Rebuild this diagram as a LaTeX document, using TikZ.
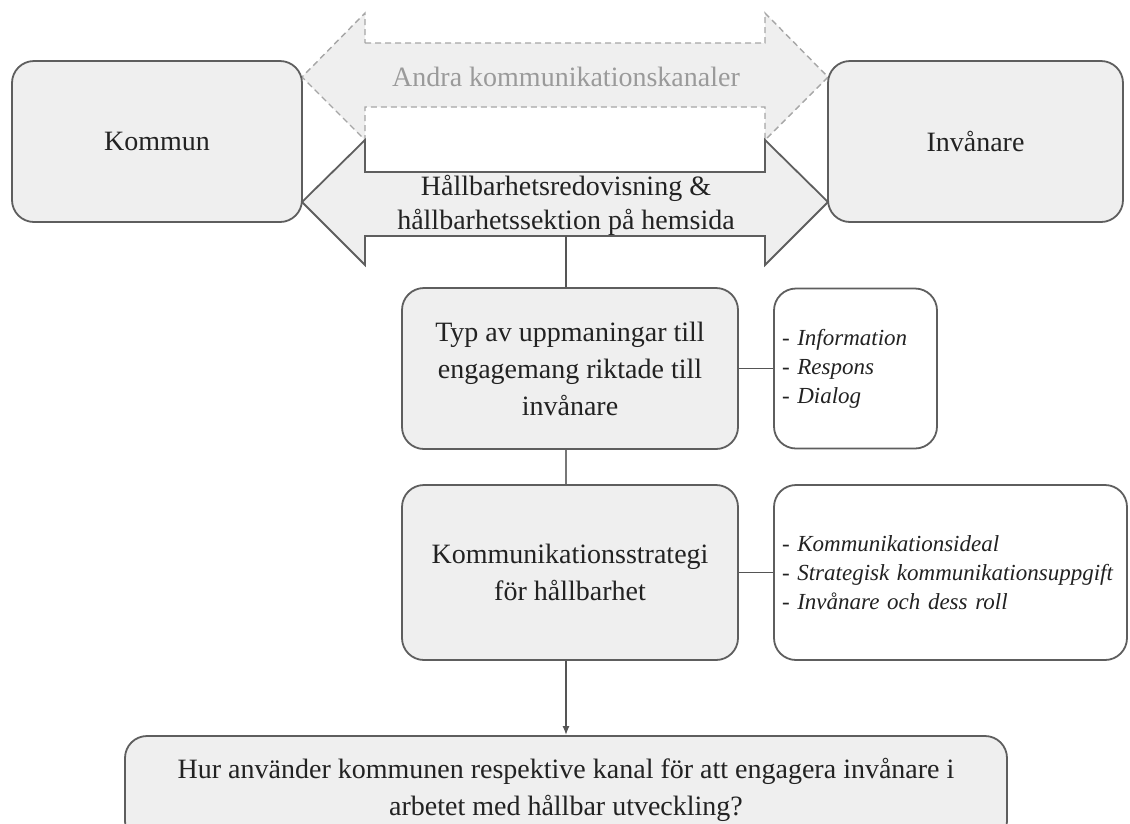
\documentclass[tikz,border=0pt]{standalone}
\usepackage{fontspec}
\setmainfont{Liberation Serif}
\usetikzlibrary{arrows.meta}
\definecolor{boxfill}{HTML}{EFEFEF}
\definecolor{boxline}{HTML}{5E5E5E}
\definecolor{dashline}{HTML}{A6A6A6}
\definecolor{graytext}{HTML}{9A9A9A}
\definecolor{textcol}{HTML}{222222}
\definecolor{conn}{HTML}{555555}
\begin{document}
\begin{tikzpicture}[x=1pt,y=-1pt,
  mainbox/.style={draw=boxline, fill=boxfill, line width=1.8pt, rounded corners=22pt,
    text=textcol, font=\fontsize{28}{37}\selectfont, align=center, inner sep=0pt},
  listbox/.style={draw=boxline, fill=white, line width=1.8pt, rounded corners=22pt,
    text=textcol, font=\fontsize{23}{29}\selectfont\itshape, align=left,
    inner xsep=8pt, inner ysep=0pt},
  dasharrow/.style={draw=dashline, fill=boxfill, line width=1.4pt, dash pattern=on 6pt off 4pt},
  solidarrow/.style={draw=boxline, fill=boxfill, line width=1.8pt},
  link/.style={draw=conn, line width=1.6pt},
  arrowlabel/.style={font=\fontsize{28}{34}\selectfont, align=center, inner sep=0pt}]
\useasboundingbox (0,0) rectangle (1130,823);

% channel arrows
\draw[dasharrow] (365,43) -- (765,43) -- (765,13) -- (828,77) -- (765,140) -- (765,107)
  -- (365,107) -- (365,140) -- (302,77) -- (365,13) -- cycle;
\draw[solidarrow] (365,172) -- (765,172) -- (765,140) -- (828,202) -- (765,265) -- (765,236)
  -- (365,236) -- (365,265) -- (302,202) -- (365,140) -- cycle;
\node[arrowlabel, text=graytext] (andra) at (566,77) {Andra kommunikationskanaler};
\node[arrowlabel, text=textcol] (hallb) at (566,205) {Hållbarhetsredovisning \&\\hållbarhetssektion på hemsida};
\coordinate (sb) at (566,236);

% actor boxes
\node[mainbox, minimum width=290pt, minimum height=161pt] (kommun) at (157,141.5) {Kommun};
\node[mainbox, minimum width=295pt, minimum height=161pt] (invanare) at (975.5,141.5) {Invånare};

% middle boxes
\node[mainbox, minimum width=336pt, minimum height=161pt] (typ) at (570,368.5)
  {Typ av uppmaningar till\\engagemang riktade till\\invånare};
\node[listbox, text width=147pt, minimum height=160pt] (info) at (855.5,368.5)
  {- Information\\- Respons\\- Dialog};
\node[mainbox, minimum width=336pt, minimum height=175pt] (strat) at (570,572.5)
  {Kommunikationsstrategi\\för hållbarhet};
\node[listbox, text width=337pt, minimum height=175pt] (ideal) at (950.5,572.5)
  {- Kommunikationsideal\\- Strategisk kommunikationsuppgift\\- Invånare och dess roll};
\node[mainbox, minimum width=882pt, minimum height=107pt] (hur) at (566,789.5)
  {Hur använder kommunen respektive kanal för att engagera invånare i\\arbetet med hållbar utveckling?};

% connectors
\draw[link] (sb) -- (sb |- typ.north);
\draw[link, draw=conn!80] (sb |- typ.south) -- (sb |- strat.north);
\draw[link] (typ.east) -- (info.west);
\draw[link] (strat.east) -- (ideal.west);
\draw[link, -{Latex[length=9pt,width=7pt]}] (sb |- strat.south) -- (sb |- hur.north);
\end{tikzpicture}
\end{document}
